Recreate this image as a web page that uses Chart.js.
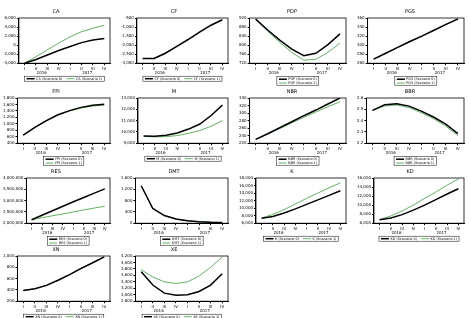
<!DOCTYPE html>
<html><head><meta charset="utf-8">
<script src="https://cdn.jsdelivr.net/npm/chart.js@4/dist/chart.umd.min.js"></script>
<style>
html,body{margin:0;padding:0;background:#fff;}
body{width:471px;height:318px;position:relative;overflow:hidden;}
canvas{position:absolute;}
</style></head><body>
<script>
const quarters = ['I','II','III','IV','I','II','III','IV'];
const years = ['2016','2017'];
const seriesNames = ['(Scenario 0)','(Scenario 1)'];

const caBase = [-4000,-3170,-2180,-1200,-290,550,1150,1450];
const caAlt  = [-4000,-2560,-1050,470,1830,2970,3730,4400];
const cfBase = [-2735,-2735,-2450,-2070,-1690,-1280,-900,-595];
const cfAlt  = [-2740,-2745,-2460,-2080,-1700,-1290,-910,-600];
const pdpBase = [915,867,822,782,753,764,802,850];
const pdpAlt  = [915,861,812,768,734,737,768,809];
const pgsBase = [269,282,295,308,320,333,346,358];
const pgsAlt  = [269,282,295,307,320,332,345,357];
const fpiBase = [650,890,1100,1280,1410,1510,1575,1605];
const fpiAlt  = [640,880,1090,1270,1395,1490,1550,1580];
const mBase = [9630,9620,9700,9900,10250,10700,11450,12370];
const mAlt  = [9600,9560,9580,9680,9870,10120,10500,11000];
const nbrBase = [230,245,261,277,293,308,324,340];
const nbrAlt  = [230,244,259,274,289,303,317,330];
const bbrBase = [2.49,2.54,2.548,2.528,2.484,2.432,2.368,2.284];
const bbrAlt  = [2.49,2.53,2.538,2.516,2.47,2.418,2.352,2.267];
const resBase = [2150000,2350000,2550000,2750000,2950000,3140000,3330000,3520000];
const resAlt  = [2150000,2240000,2330000,2410000,2500000,2590000,2670000,2750000];
const dmtBase = [1325,520,270,150,90,55,35,25];
const dmtAlt  = [1315,510,265,145,85,52,33,23];
const kBase = [7330,7800,8700,9800,11000,12200,13400,14600];
const kAlt  = [7400,8300,9600,11100,12600,14000,15400,16700];
const kdBase = [6740,7150,7900,8900,10000,11200,12450,13630];
const kdAlt  = [6800,7600,8700,10000,11500,12900,14400,15780];
const xnBase = [390,420,480,570,670,780,880,985];
const xnAlt  = [390,418,476,565,665,775,875,980];
const xeBase = [3713,3300,3050,2983,3000,3100,3300,3652];
const xeAlt  = [3774,3550,3400,3348,3400,3580,3850,4170];

const panels = [
 {t:'CA', b:caBase, a:caAlt, min:-4000, max:6000, step:2000},
 {t:'CF', b:cfBase, a:cfAlt, min:-3000, max:-500, step:500},
 {t:'PDP', b:pdpBase, a:pdpAlt, min:720, max:920, step:40},
 {t:'PGS', b:pgsBase, a:pgsAlt, min:260, max:360, step:20},
 {t:'FPI', b:fpiBase, a:fpiAlt, min:400, max:1800, step:200},
 {t:'M', b:mBase, a:mAlt, min:9000, max:13000, step:1000},
 {t:'NBR', b:nbrBase, a:nbrAlt, min:220, max:340, step:20},
 {t:'BBR', b:bbrBase, a:bbrAlt, min:2.2, max:2.6, step:0.1},
 {t:'RES', b:resBase, a:resAlt, min:2000000, max:4000000, step:500000},
 {t:'DMT', b:dmtBase, a:dmtAlt, min:0, max:1600, step:400},
 {t:'K', b:kBase, a:kAlt, min:6000, max:18000, step:2000},
 {t:'KD', b:kdBase, a:kdAlt, min:6000, max:16000, step:2000},
 {t:'XN', b:xnBase, a:xnAlt, min:200, max:1000, step:200},
 {t:'XE', b:xeBase, a:xeAlt, min:2800, max:4200, step:200}
];

const frameYearsLegend = {
  id:'frameYearsLegend',
  afterDraw(chart, args, opts){
    const {ctx, chartArea:ca, scales:{x}} = chart;
    ctx.save();
    ctx.strokeStyle='#000'; ctx.lineWidth=0.8;
    ctx.strokeRect(ca.left, ca.top, ca.right-ca.left, ca.bottom-ca.top);
    ctx.fillStyle='#000'; ctx.font='4px "DejaVu Sans"'; ctx.textAlign='center'; ctx.textBaseline='middle';
    const y = ca.bottom + 9.5;
    ctx.fillText(years[0], (x.getPixelForValue(1)+x.getPixelForValue(2))/2, y);
    ctx.fillText(years[1], (x.getPixelForValue(5)+x.getPixelForValue(6))/2, y);
    // legend
    ctx.font='3.4px "DejaVu Sans"'; ctx.textAlign='left';
    const ds = chart.data.datasets;
    const sample = 8, gap = 1.5, sep = 4;
    const widths = ds.map(d=>sample+gap+ctx.measureText(d.label).width);
    const cx = (ca.left+ca.right)/2;
    const drawEntry=(d,lx,ly)=>{
      ctx.strokeStyle=d.borderColor; ctx.lineWidth=d.borderWidth;
      ctx.beginPath(); ctx.moveTo(lx, ly); ctx.lineTo(lx+sample, ly); ctx.stroke();
      ctx.fillStyle='#000';
      ctx.fillText(d.label, lx+sample+gap, ly+0.2);
    };
    if (opts.stacked){
      const w = Math.max(...widths) + 4;
      const lx = cx - w/2, ly = ca.bottom + 16;
      ctx.lineWidth=0.5; ctx.strokeStyle='#000';
      ctx.strokeRect(lx, ly-2.5, w, 8.5);
      drawEntry(ds[0], lx+2, ly);
      drawEntry(ds[1], lx+2, ly+3.8);
    } else {
      const total = widths.reduce((s,w)=>s+w,0) + sep*(ds.length-1) + 4;
      let lx = cx - total/2;
      const ly = ca.bottom + 15.5;
      ctx.lineWidth=0.5; ctx.strokeStyle='#000';
      ctx.strokeRect(lx, ly-2.5, total, 5);
      lx += 2;
      ds.forEach((d,i)=>{ drawEntry(d, lx, ly); lx += widths[i] + sep; });
    }
    ctx.restore();
  }
};

const colX=[0,118,236,354], rowY=[0,80,160,238];
panels.forEach((p,i)=>{
  const c=document.createElement('canvas');
  c.width=118; c.height=88;
  c.style.left=colX[i%4]+'px'; c.style.top=rowY[Math.floor(i/4)]+'px';
  document.body.appendChild(c);
  new Chart(c,{
    type:'line',
    data:{labels:quarters, datasets:[
      {label:p.t+' '+seriesNames[0], data:p.b, borderColor:'#000', borderWidth:1.5, pointRadius:0, tension:0},
      {label:p.t+' '+seriesNames[1], data:p.a, borderColor:'#3c9c3c', borderWidth:0.8, pointRadius:0, tension:0}
    ]},
    options:{
      responsive:false, animation:false, devicePixelRatio:1,
      layout:{padding:{left:2,right:8,top:0,bottom:16}},
      plugins:{
        title:{display:true, text:p.t, color:'#000', font:{size:5, family:'DejaVu Sans', weight:'normal'}, padding:{top:9,bottom:3}},
        legend:{display:false},
        tooltip:{enabled:false},
        frameYearsLegend:{stacked:p.t.length>=3}
      },
      scales:{
        x:{offset:true, grid:{display:true, drawOnChartArea:false, tickLength:2, color:'#000'}, border:{color:'#000'},
           ticks:{color:'#000', font:{size:4, family:'DejaVu Sans'}, maxRotation:0, autoSkip:false, padding:1}},
        y:{min:p.min, max:p.max, grid:{display:true, drawOnChartArea:false, tickLength:2, color:'#000'}, border:{color:'#000'},
           ticks:{stepSize:p.step, autoSkip:false, color:'#000', font:{size:4, family:'DejaVu Sans'}, padding:1}}
      }
    },
    plugins:[frameYearsLegend]
  });
});
</script>
</body></html>
